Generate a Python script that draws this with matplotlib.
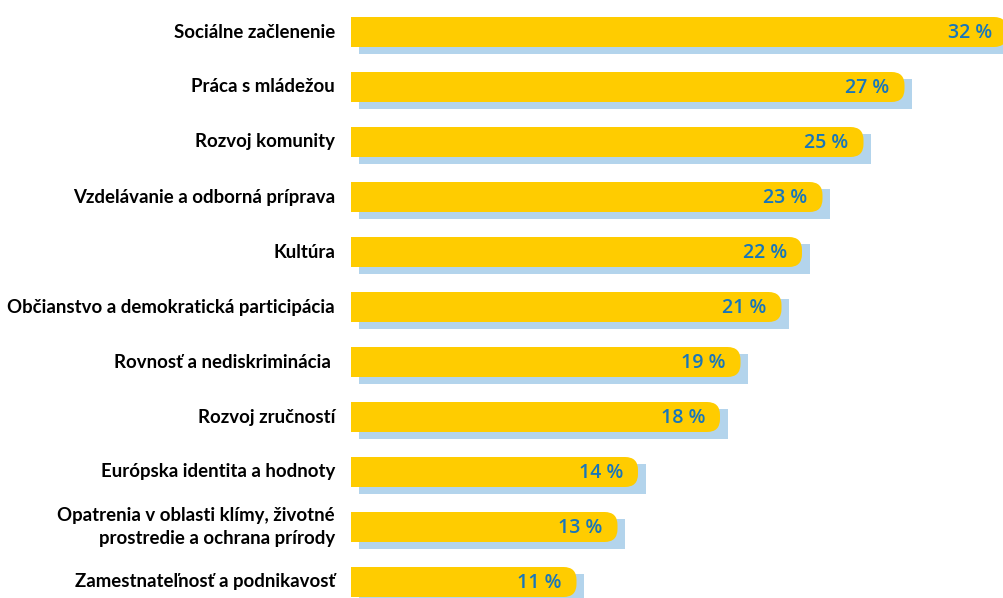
import matplotlib
matplotlib.use('Agg')
import matplotlib.pyplot as plt
from matplotlib.patches import FancyBboxPatch

# data
categories = [
    'Sociálne začlenenie',
    'Práca s mládežou',
    'Rozvoj komunity',
    'Vzdelávanie a odborná príprava',
    'Kultúra',
    'Občianstvo a demokratická participácia',
    'Rovnosť a nediskriminácia ',
    'Rozvoj zručností',
    'Európska identita a hodnoty',
    'Opatrenia v oblasti klímy, životné\nprostredie a ochrana prírody',
    'Zamestnateľnosť a podnikavosť',
]
values = [32, 27, 25, 23, 22, 21, 19, 18, 14, 13, 11]

YELLOW = '#FFCC00'
SHADOW = '#B3D4EC'
BLUE = '#1776BC'

W, H, DPI = 1004, 598, 100
fig = plt.figure(figsize=(W / DPI, H / DPI), dpi=DPI)

# axes area in pixels: bars start at x=351, rows every 55 px, first row centre at 32 px
x0 = 351
px_per_pct = 20.5
row_px = 55
first_px = 32
ax = fig.add_axes([x0 / W, 0, 1 - x0 / W, 1])
ax.set_xlim(0, (W - x0) / px_per_pct)
ax.set_ylim((H - first_px) / row_px, -first_px / row_px)
ax.axis('off')

bar_h = 30 / row_px
dx = 8 / px_per_pct       # shadow offset
dy = 7 / row_px
rx = 13 / px_per_pct      # corner radius
ry = 13 / row_px

for i, v in enumerate(values):
    # shadow
    ax.barh(i + dy, v, left=dx, height=bar_h, color=SHADOW, zorder=1, clip_on=False)
    # yellow bar with rounded right end
    ax.barh(i, v - rx, height=bar_h, color=YELLOW, zorder=2, clip_on=False)
    box = FancyBboxPatch((0, i - bar_h / 2), v, bar_h,
                         boxstyle=f'round,pad=0,rounding_size={rx}',
                         mutation_aspect=ry / rx,
                         facecolor=YELLOW, edgecolor='none', zorder=2, clip_on=False)
    ax.add_patch(box)
    ax.text(v - 15 / px_per_pct, i + 0.01, f'{v} %', ha='right', va='center',
            color=BLUE, fontsize=14, fontweight='semibold', family='Open Sans',
            zorder=3)

    ax.annotate(categories[i], xy=(0, i), xycoords='data',
                xytext=(-16, 0), textcoords='offset pixels',
                ha='right', va='center', ma='right',
                fontsize=13.4, fontweight='bold', family='Lato',
                linespacing=1.4, annotation_clip=False)

fig.savefig('out.png', dpi=DPI)
